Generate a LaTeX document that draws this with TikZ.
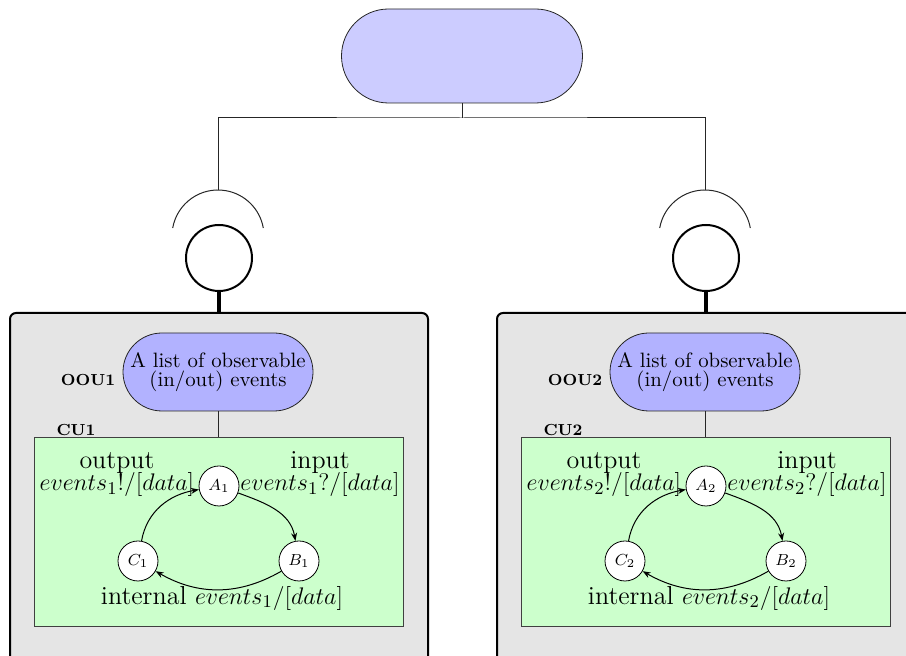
\documentclass[tikz,border=0pt]{standalone}
\usepackage{amsmath}
\usetikzlibrary{positioning,shapes.geometric,arrows.meta}

\begin{document}
\begin{tikzpicture}[x=0.5pt,y=0.5pt,every node/.style={font=\normalsize},
  wire/.style={draw=black!85,line width=0.5pt},
  pill/.style={draw=black!85,rectangle,rounded corners=#1,inner sep=0pt},
  ball/.style={circle,draw,line width=1pt,fill=white,minimum size=33pt,inner sep=0pt},
  stem/.style={draw,line width=1.6pt},
  unitbox/.style={draw,line width=1pt,rounded corners=3pt,fill=black!10,minimum width=209pt,minimum height=200pt,inner sep=0pt},
  cubox/.style={draw=black!75,line width=0.5pt,fill=green!20,minimum width=184.5pt,minimum height=94.5pt,inner sep=0pt},
  tag/.style={font=\footnotesize\bfseries,inner sep=0pt},
  state/.style={circle,draw,fill=white,minimum size=20pt,inner sep=0pt,font=\footnotesize},
  trans/.style={-{Stealth[length=4pt,width=3pt]},line width=0.5pt},
  oouText/.style={font={\fontsize{10.4}{9.6}\selectfont\lineskiplimit=-20pt},align=center},
  evt/.style={font={\fontsize{13}{11}\selectfont\lineskiplimit=-20pt},align=center,inner sep=0pt}]
  \useasboundingbox (0,0) rectangle (906,-656);
  \clip (0,0) rectangle (906,-656);
  % ---- top: the system ----
  \node[pill=23.5pt,fill=blue!20,minimum width=120.5pt,minimum height=47pt] (sys) at (462,-56) {};
  \coordinate (bar) at (462,-118);
  % ---- the two units, each with its socket, OOU and CU ----
  \foreach \i in {1,2}{
    \begin{scope}[shift={({487*(\i-1)},0)}]
      \coordinate (sock\i) at (218,-190);
      \draw[wire] (sock\i) ++(0,-46) ++(170:46) arc (170:10:46);
      \node[ball] (ball\i) at (219,-258) {};
      \node[unitbox] (box\i) at (219,-513) {};
      \draw[stem] (ball\i) -- (box\i);
      \node[pill=19.5pt,fill=blue!30,minimum width=95pt,minimum height=39pt,oouText] (oou\i) at (218,-372) {A list of observable\\(in/out) events};
      \node[tag] (ooutag\i) at (88,-380) {OOU\i};
      \node[cubox] (cu\i) at (218.5,-532.5) {};
      \node[tag] (cutag\i) at (76,-430) {CU\i};
      \draw[wire] (oou\i) -- (oou\i |- cu\i.north);
      % states of the CU
      \node[state] (a\i) at (219,-486) {$A_\i$};
      \node[state] (b\i) at (299,-561) {$B_\i$};
      \node[state] (c\i) at (138,-561) {$C_\i$};
      \draw[trans] (c\i) to[out=80,in=190] (a\i);
      \draw[trans] (a\i) to[out=-20,in=100] (b\i);
      \draw[trans] (b\i) to[out=-150,in=-30] (c\i);
      \node[evt] (outev\i) at (117,-475) {output\\$events_\i!/[data]$};
      \node[evt] (inev\i) at (320,-474) {input\\$events_\i?/[data]$};
      \node[evt] (intev\i) at (222,-598) {internal $events_\i/[data]$};
    \end{scope}
  }
  \draw[wire] (sys) -- (bar);
  \draw[wire] (sock1) |- (bar) -| (sock2);
\end{tikzpicture}
\end{document}
